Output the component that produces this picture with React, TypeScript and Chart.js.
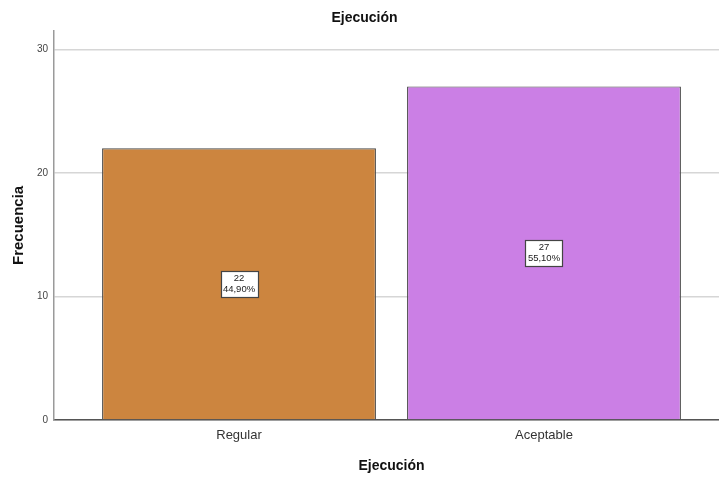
import React, { useEffect, useRef } from "react";
import { Chart, registerables } from "chart.js";

Chart.register(...registerables);

const categories: string[] = ["Regular", "Aceptable"];
const counts: number[] = [22, 27];
const barColors: string[] = ["#CC853F", "#CB7FE5"];
const yTickValues: number[] = [0, 10, 20, 30];
const yMax = 31.5;
const xPositions: number[] = [1, 2];

const FONT = "'Liberation Sans', Arial, sans-serif";

const labelBoxPlugin = {
  id: "labelBoxes",
  afterDatasetsDraw(chart: any) {
    const ctx = chart.ctx;
    const meta = chart.getDatasetMeta(0);
    const total = counts.reduce((a, b) => a + b, 0);
    meta.data.forEach((bar: any, i: number) => {
      const v = counts[i];
      const pct = ((v / total) * 100).toFixed(2).replace(".", ",") + "%";
      const cx = bar.x;
      const cy = (bar.y + bar.base) / 2;
      const w = 37;
      const h = 26;
      ctx.save();
      ctx.fillStyle = "#ffffff";
      ctx.fillRect(Math.round(cx - w / 2) + 0.5, Math.round(cy - h / 2) + 0.5, w, h);
      ctx.strokeStyle = "#444444";
      ctx.lineWidth = 1.2;
      ctx.strokeRect(Math.round(cx - w / 2) + 0.5, Math.round(cy - h / 2) + 0.5, w, h);
      ctx.fillStyle = "#222222";
      ctx.font = "9.5px " + FONT;
      ctx.textAlign = "center";
      ctx.textBaseline = "middle";
      ctx.fillText(String(v), cx, cy - 5.5);
      ctx.fillText(pct, cx, cy + 6);
      ctx.restore();
    });
  },
};

export default function App() {
  const canvasRef = useRef<HTMLCanvasElement | null>(null);

  useEffect(() => {
    document.body.style.margin = "0";
    const canvas = canvasRef.current;
    if (!canvas) return;
    const chart = new Chart(canvas, {
      type: "bar",
      data: {
        datasets: [
          {
            data: counts.map((c, i) => ({ x: xPositions[i], y: c })),
            backgroundColor: barColors,
            borderColor: "#4a4a4a",
            borderWidth: 1.2,
            barPercentage: 0.898,
            categoryPercentage: 1,
          },
        ],
      },
      options: {
        animation: false,
        responsive: false,
        maintainAspectRatio: false,
        layout: { padding: 0 },
        plugins: {
          legend: { display: false },
          tooltip: { enabled: false },
          title: {
            display: true,
            text: "Ejecución",
            color: "#111111",
            font: { family: FONT, size: 14, weight: "bold" },
            padding: { top: 10, bottom: 4 },
          },
        },
        scales: {
          x: {
            type: "linear",
            min: 0.3934,
            max: 2.6066,
            offset: false,
            grid: { display: false, drawTicks: false, tickLength: 0 },
            border: { display: true, color: "#555555", width: 1.5 },
            afterBuildTicks: (axis: any) => {
              axis.ticks = xPositions.map((v) => ({ value: v }));
            },
            afterFit: (axis: any) => {
              axis.height = 57;
            },
            ticks: {
              padding: 8,
              color: "#333333",
              font: { family: FONT, size: 13 },
              autoSkip: false,
              maxRotation: 0,
              callback: (v: any) => categories[xPositions.indexOf(Number(v))] ?? "",
            },
            title: {
              display: true,
              text: "Ejecución",
              color: "#111111",
              font: { family: FONT, size: 14, weight: "bold" },
              padding: { top: 0, bottom: 2 },
            },
          },
          y: {
            type: "linear",
            min: 0,
            max: yMax,
            grid: { color: "#d6d6d6", lineWidth: 1.5, drawTicks: false, tickLength: 0 },
            border: { display: true, color: "#9a9a9a", width: 1.5 },
            afterBuildTicks: (axis: any) => {
              axis.ticks = yTickValues.map((v) => ({ value: v }));
            },
            afterFit: (axis: any) => {
              axis.width = 54;
            },
            ticks: {
              padding: 6,
              color: "#444444",
              font: { family: FONT, size: 10 },
            },
            title: {
              display: true,
              text: "Frecuencia",
              color: "#111111",
              font: { family: FONT, size: 15, weight: "bold" },
              padding: { top: 10, bottom: 0 },
            },
          },
        },
      },
      plugins: [labelBoxPlugin],
    } as any);
    return () => chart.destroy();
  }, []);

  return (
    <div style={{ width: 719, height: 477, overflow: "hidden", background: "#ffffff" }}>
      <canvas ref={canvasRef} width={729} height={477} style={{ width: 729, height: 477, display: "block" }} />
    </div>
  );
}
